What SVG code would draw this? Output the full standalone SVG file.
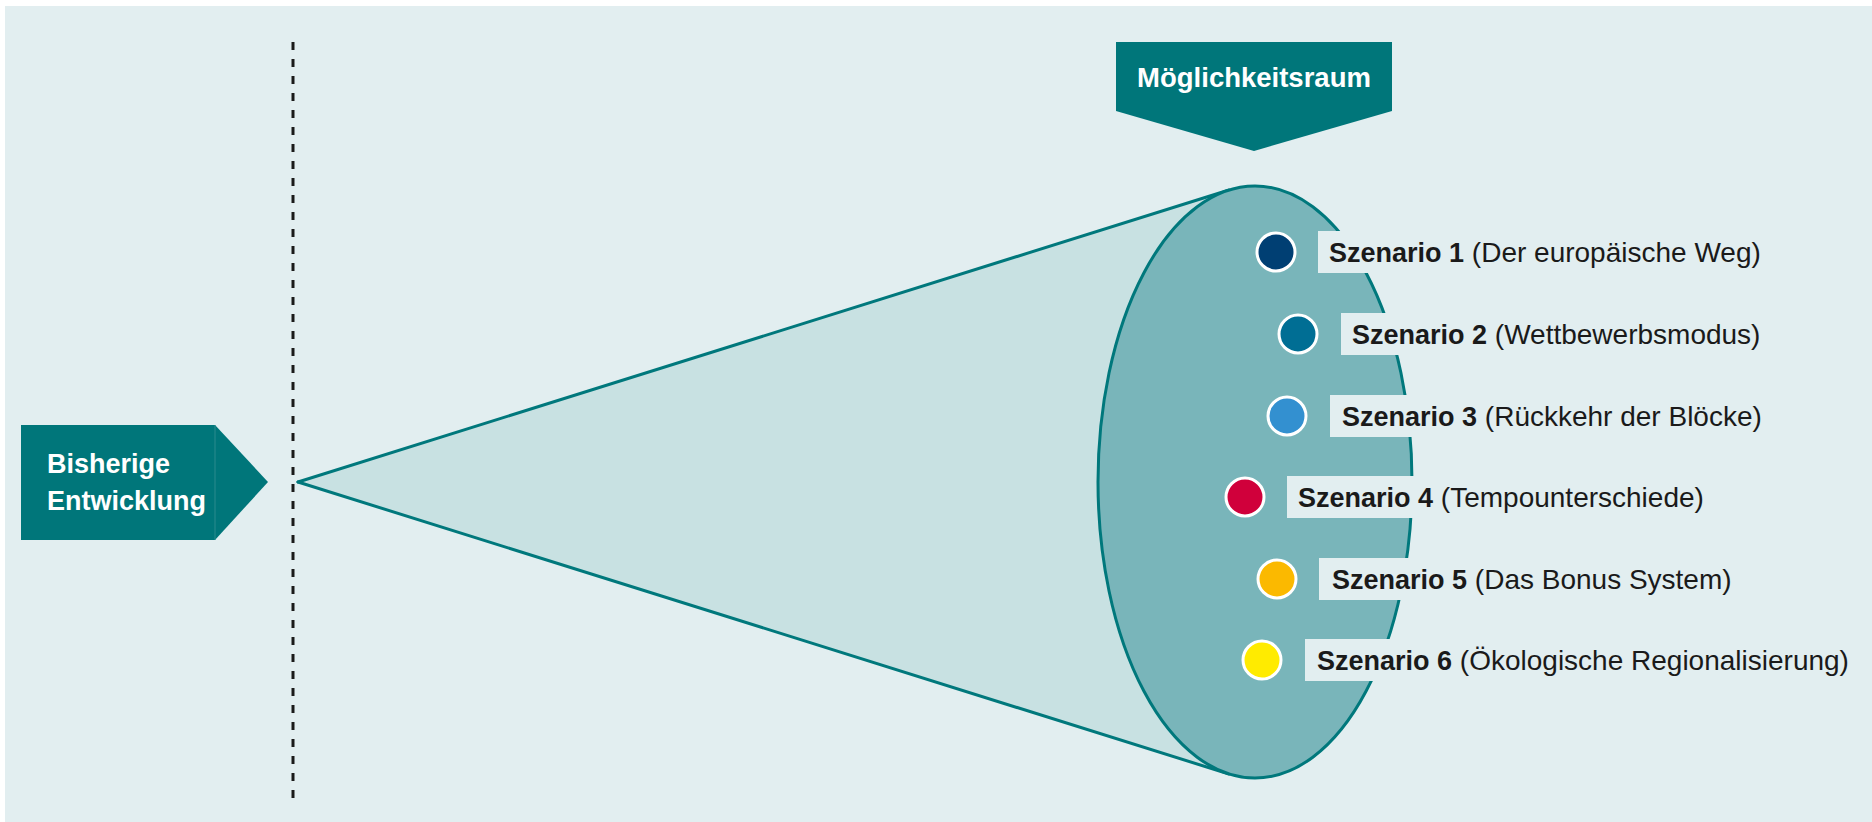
<svg xmlns="http://www.w3.org/2000/svg" width="1872" height="822" viewBox="0 0 1872 822">
<defs>
<style>
.bg{fill:#e2eef0}
.tealfill{fill:#00767a}
.hdr{font-family:"Liberation Sans",Arial,sans-serif;font-weight:bold;fill:#ffffff;font-size:27px}
.lbl{font-family:"Liberation Sans",Arial,sans-serif;font-size:28px;fill:#1a1a1a}
.lbl .b{font-weight:bold;font-size:27px}
.box{fill:#e2eef0}
.dot{stroke:#ffffff;stroke-width:3}
.edge{stroke:#00787c;stroke-width:3;fill:none;stroke-linecap:round}
</style>
</defs>
<rect x="0" y="0" width="1872" height="822" fill="#ffffff"/>
<rect class="bg" x="5" y="6" width="1867" height="816"/>

<g id="connectors">
<line x1="293" y1="42" x2="293" y2="806" stroke="#1a1a1a" stroke-width="3" stroke-dasharray="8 9"/>
</g>

<g id="cone">
<polygon points="298,482 1229,190 1229,774" fill="#c8e1e2"/>
<line class="edge" x1="298" y1="482" x2="1229" y2="190"/>
<line class="edge" x1="298" y1="482" x2="1229" y2="774"/>
<ellipse cx="1255" cy="482" rx="157" ry="296" fill="#79b5ba" stroke="#00787c" stroke-width="3"/>
</g>

<g id="bisherige">
<polygon class="tealfill" points="21,425 215,425 268,482 215,540 21,540"/>
<line x1="215" y1="425" x2="215" y2="540" stroke="#2a8a8d" stroke-width="1"/>
<text class="hdr" x="47" y="473">Bisherige</text>
<text class="hdr" x="47" y="510">Entwicklung</text>
</g>

<g id="moeglichkeitsraum">
<polygon class="tealfill" points="1116,42 1392,42 1392,111 1254,151 1116,111"/>
<text class="hdr" x="1254" y="87" text-anchor="middle" style="font-size:27.5px">Möglichkeitsraum</text>
</g>

<g id="szenario1">
<rect class="box" x="1318" y="231" width="452" height="42"/>
<circle class="dot" cx="1276" cy="252" r="19" fill="#003f73"/>
<text class="lbl" x="1329" y="262"><tspan class="b">Szenario 1</tspan> (Der europäische Weg)</text>
</g>

<g id="szenario2">
<rect class="box" x="1341" y="313" width="435" height="42"/>
<circle class="dot" cx="1298" cy="334" r="19" fill="#006e94"/>
<text class="lbl" x="1352" y="344"><tspan class="b">Szenario 2</tspan> (Wettbewerbsmodus)</text>
</g>

<g id="szenario3">
<rect class="box" x="1330" y="395" width="442" height="42"/>
<circle class="dot" cx="1287" cy="416" r="19" fill="#3390d0"/>
<text class="lbl" x="1342" y="426"><tspan class="b">Szenario 3</tspan> (Rückkehr der Blöcke)</text>
</g>

<g id="szenario4">
<rect class="box" x="1287" y="476" width="431" height="42"/>
<circle class="dot" cx="1245" cy="497" r="19" fill="#d0003b"/>
<text class="lbl" x="1298" y="507"><tspan class="b">Szenario 4</tspan> (Tempounterschiede)</text>
</g>

<g id="szenario5">
<rect class="box" x="1319" y="558" width="414" height="42"/>
<circle class="dot" cx="1277" cy="579" r="19" fill="#fbb900"/>
<text class="lbl" x="1332" y="589"><tspan class="b">Szenario 5</tspan> (Das Bonus System)</text>
</g>

<g id="szenario6">
<rect class="box" x="1305" y="639" width="557" height="42"/>
<circle class="dot" cx="1262" cy="660" r="19" fill="#ffeb00"/>
<text class="lbl" x="1317" y="670"><tspan class="b">Szenario 6</tspan> (Ökologische Regionalisierung)</text>
</g>
</svg>
